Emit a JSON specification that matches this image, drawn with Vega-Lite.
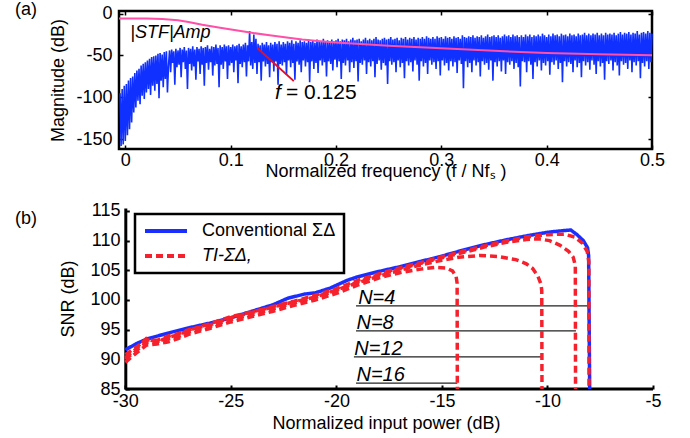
{
"$schema": "https://vega.github.io/schema/vega-lite/v6.json",
"padding": {"left": 13, "top": -1, "right": 5, "bottom": 2},
"background": "white",
"spacing": 19,
"resolve": {"legend": {"color": "independent", "strokeDash": "independent"}},
"config": {
  "font": "Liberation Sans",
  "view": {"stroke": null},
  "axis": {"labelFont": "Liberation Sans", "titleFont": "Liberation Sans", "labelFontSize": 18, "titleFontSize": 18, "titleFontWeight": "normal", "labelColor": "#000", "titleColor": "#000", "tickColor": "#000", "domainColor": "#000", "grid": false, "labelFlush": false, "labelOverlap": false},
  "legend": {"strokeWidth": 2.5, "cornerRadius": 0},
  "title": {"font": "Liberation Sans", "fontSize": 18, "fontWeight": "normal", "color": "#000"}
},
"datasets": {
  "spec": [
{"f":-0.005,"m":-95},{"f":-0.004,"m":-158},{"f":-0.003,"m":-90},{"f":-0.002,"m":-156},{"f":-0.001,"m":-86},{"f":0,"m":-152},{"f":0.001,"m":-84},{"f":0.002,"m":-145},{"f":0.003,"m":-80},{"f":0.004,"m":-138},{"f":0.005,"m":-77},{"f":0.006,"m":-130},{"f":0.007,"m":-75},{"f":0.008,"m":-118},{"f":0.009,"m":-71},{"f":0.01,"m":-112},{"f":0.011,"m":-68},{"f":0.012,"m":-104},{"f":0.013,"m":-66},{"f":0.014,"m":-108},{"f":0.015,"m":-62},{"f":0.016,"m":-98},{"f":0.017,"m":-60},{"f":0.018,"m":-102},{"f":0.019,"m":-58},{"f":0.02,"m":-94},{"f":0.021,"m":-56},{"f":0.022,"m":-90},{"f":0.023,"m":-54},{"f":0.024,"m":-97},{"f":0.025,"m":-52},{"f":0.026,"m":-86},{"f":0.027,"m":-51},{"f":0.028,"m":-92},{"f":0.029,"m":-50},{"f":0.03,"m":-84},{"f":0.031,"m":-48},{"f":0.032,"m":-101},{"f":0.033,"m":-47},{"f":0.034,"m":-80},{"f":0.035,"m":-49},{"f":0.036,"m":-88},{"f":0.037,"m":-46},{"f":0.038,"m":-78},{"f":0.039,"m":-45},{"f":0.04,"m":-94},
{"f":0.041,"m":-62},{"f":0.042,"m":-44},{"f":0.043,"m":-70},{"f":0.044,"m":-43},{"f":0.045,"m":-59},{"f":0.046,"m":-45},{"f":0.047,"m":-85},{"f":0.048,"m":-42},{"f":0.049,"m":-64},{"f":0.05,"m":-44},
{"f":0.051,"m":-61},{"f":0.052,"m":-41},{"f":0.053,"m":-76},{"f":0.054,"m":-43},{"f":0.055,"m":-58},{"f":0.056,"m":-40},{"f":0.057,"m":-66},{"f":0.058,"m":-44},{"f":0.059,"m":-90},{"f":0.06,"m":-41},
{"f":0.061,"m":-60},{"f":0.062,"m":-42},{"f":0.063,"m":-68},{"f":0.064,"m":-39},{"f":0.065,"m":-63},{"f":0.066,"m":-43},{"f":0.067,"m":-79},{"f":0.068,"m":-40},{"f":0.069,"m":-57},{"f":0.07,"m":-42},
{"f":0.071,"m":-72},{"f":0.072,"m":-39},{"f":0.073,"m":-61},{"f":0.074,"m":-41},{"f":0.075,"m":-86},{"f":0.076,"m":-40},{"f":0.077,"m":-59},{"f":0.078,"m":-38},{"f":0.079,"m":-67},{"f":0.08,"m":-42},
{"f":0.081,"m":-58},{"f":0.082,"m":-39},{"f":0.083,"m":-74},{"f":0.084,"m":-40},{"f":0.085,"m":-62},{"f":0.086,"m":-37},{"f":0.087,"m":-60},{"f":0.088,"m":-41},{"f":0.089,"m":-88},{"f":0.09,"m":-38},
{"f":0.091,"m":-61},{"f":0.092,"m":-40},{"f":0.093,"m":-66},{"f":0.094,"m":-37},{"f":0.095,"m":-57},{"f":0.096,"m":-39},{"f":0.097,"m":-78},{"f":0.098,"m":-38},{"f":0.099,"m":-62},{"f":0.1,"m":-40},
{"f":0.101,"m":-59},{"f":0.102,"m":-37},{"f":0.103,"m":-70},{"f":0.104,"m":-39},{"f":0.105,"m":-56},{"f":0.106,"m":-38},{"f":0.107,"m":-83},{"f":0.108,"m":-36},{"f":0.109,"m":-60},{"f":0.11,"m":-39},
{"f":0.111,"m":-64},{"f":0.112,"m":-37},{"f":0.113,"m":-58},{"f":0.114,"m":-35},{"f":0.115,"m":-75},{"f":0.116,"m":-38},{"f":0.117,"m":-57},{"f":0.118,"m":-21},{"f":0.119,"m":-62},{"f":0.12,"m":-34},
{"f":0.121,"m":-66},{"f":0.122,"m":-25},{"f":0.123,"m":-59},{"f":0.124,"m":-30},{"f":0.125,"m":-72},{"f":0.126,"m":-36},{"f":0.127,"m":-58},{"f":0.128,"m":-38},{"f":0.129,"m":-80},{"f":0.13,"m":-35},
{"f":0.131,"m":-57},{"f":0.132,"m":-37},{"f":0.133,"m":-63},{"f":0.134,"m":-34},{"f":0.135,"m":-60},{"f":0.136,"m":-38},{"f":0.137,"m":-76},{"f":0.138,"m":-35},{"f":0.139,"m":-58},{"f":0.14,"m":-37},
{"f":0.141,"m":-69},{"f":0.142,"m":-34},{"f":0.143,"m":-57},{"f":0.144,"m":-36},{"f":0.145,"m":-85},{"f":0.146,"m":-33},{"f":0.147,"m":-60},{"f":0.148,"m":-37},{"f":0.149,"m":-62},{"f":0.15,"m":-34},
{"f":0.151,"m":-58},{"f":0.152,"m":-36},{"f":0.153,"m":-73},{"f":0.154,"m":-33},{"f":0.155,"m":-56},{"f":0.156,"m":-35},{"f":0.157,"m":-64},{"f":0.158,"m":-32},{"f":0.159,"m":-59},{"f":0.16,"m":-36},
{"f":0.161,"m":-79},{"f":0.162,"m":-33},{"f":0.163,"m":-57},{"f":0.164,"m":-35},{"f":0.165,"m":-61},{"f":0.166,"m":-32},{"f":0.167,"m":-70},{"f":0.168,"m":-34},{"f":0.169,"m":-56},{"f":0.17,"m":-33},
{"f":0.171,"m":-63},{"f":0.172,"m":-35},{"f":0.173,"m":-58},{"f":0.174,"m":-31},{"f":0.175,"m":-82},{"f":0.176,"m":-34},{"f":0.177,"m":-57},{"f":0.178,"m":-32},{"f":0.179,"m":-66},{"f":0.18,"m":-35},
{"f":0.181,"m":-59},{"f":0.182,"m":-31},{"f":0.183,"m":-71},{"f":0.184,"m":-33},{"f":0.185,"m":-56},{"f":0.186,"m":-34},{"f":0.187,"m":-62},{"f":0.188,"m":-30},{"f":0.189,"m":-58},{"f":0.19,"m":-33},
{"f":0.191,"m":-75},{"f":0.192,"m":-32},{"f":0.193,"m":-57},{"f":0.194,"m":-34},{"f":0.195,"m":-60},{"f":0.196,"m":-31},{"f":0.197,"m":-68},{"f":0.198,"m":-33},{"f":0.199,"m":-55},{"f":0.2,"m":-32},
{"f":0.201,"m":-64},{"f":0.202,"m":-30},{"f":0.203,"m":-57},{"f":0.204,"m":-33},{"f":0.205,"m":-78},{"f":0.206,"m":-31},{"f":0.207,"m":-59},{"f":0.208,"m":-32},{"f":0.209,"m":-62},{"f":0.21,"m":-30},
{"f":0.211,"m":-56},{"f":0.212,"m":-33},{"f":0.213,"m":-70},{"f":0.214,"m":-31},{"f":0.215,"m":-58},{"f":0.216,"m":-29},{"f":0.217,"m":-65},{"f":0.218,"m":-32},{"f":0.219,"m":-57},{"f":0.22,"m":-31},
{"f":0.221,"m":-81},{"f":0.222,"m":-30},{"f":0.223,"m":-59},{"f":0.224,"m":-33},{"f":0.225,"m":-61},{"f":0.226,"m":-31},{"f":0.227,"m":-56},{"f":0.228,"m":-29},{"f":0.229,"m":-72},{"f":0.23,"m":-32},
{"f":0.231,"m":-58},{"f":0.232,"m":-30},{"f":0.233,"m":-63},{"f":0.234,"m":-32},{"f":0.235,"m":-57},{"f":0.236,"m":-30},{"f":0.237,"m":-76},{"f":0.238,"m":-28},{"f":0.239,"m":-60},{"f":0.24,"m":-31},
{"f":0.241,"m":-56},{"f":0.242,"m":-32},{"f":0.243,"m":-67},{"f":0.244,"m":-30},{"f":0.245,"m":-59},{"f":0.246,"m":-29},{"f":0.247,"m":-62},{"f":0.248,"m":-31},{"f":0.249,"m":-84},{"f":0.25,"m":-30},
{"f":0.251,"m":-57},{"f":0.252,"m":-28},{"f":0.253,"m":-61},{"f":0.254,"m":-31},{"f":0.255,"m":-58},{"f":0.256,"m":-30},{"f":0.257,"m":-70},{"f":0.258,"m":-29},{"f":0.259,"m":-56},{"f":0.26,"m":-32},
{"f":0.261,"m":-64},{"f":0.262,"m":-29},{"f":0.263,"m":-59},{"f":0.264,"m":-30},{"f":0.265,"m":-77},{"f":0.266,"m":-28},{"f":0.267,"m":-57},{"f":0.268,"m":-31},{"f":0.269,"m":-62},{"f":0.27,"m":-29},
{"f":0.271,"m":-58},{"f":0.272,"m":-30},{"f":0.273,"m":-69},{"f":0.274,"m":-28},{"f":0.275,"m":-56},{"f":0.276,"m":-31},{"f":0.277,"m":-61},{"f":0.278,"m":-29},{"f":0.279,"m":-80},{"f":0.28,"m":-30},
{"f":0.281,"m":-57},{"f":0.282,"m":-28},{"f":0.283,"m":-63},{"f":0.284,"m":-30},{"f":0.285,"m":-59},{"f":0.286,"m":-27},{"f":0.287,"m":-72},{"f":0.288,"m":-29},{"f":0.289,"m":-56},{"f":0.29,"m":-30},
{"f":0.291,"m":-61},{"f":0.292,"m":-28},{"f":0.293,"m":-58},{"f":0.294,"m":-30},{"f":0.295,"m":-66},{"f":0.296,"m":-27},{"f":0.297,"m":-57},{"f":0.298,"m":-29},{"f":0.299,"m":-74},{"f":0.3,"m":-28},
{"f":0.301,"m":-56},{"f":0.302,"m":-30},{"f":0.303,"m":-62},{"f":0.304,"m":-27},{"f":0.305,"m":-59},{"f":0.306,"m":-29},{"f":0.307,"m":-68},{"f":0.308,"m":-28},{"f":0.309,"m":-57},{"f":0.31,"m":-30},
{"f":0.311,"m":-63},{"f":0.312,"m":-27},{"f":0.313,"m":-58},{"f":0.314,"m":-29},{"f":0.315,"m":-71},{"f":0.316,"m":-28},{"f":0.317,"m":-56},{"f":0.318,"m":-30},{"f":0.319,"m":-60},{"f":0.32,"m":-26},
{"f":0.321,"m":-89},{"f":0.322,"m":-28},{"f":0.323,"m":-57},{"f":0.324,"m":-29},{"f":0.325,"m":-64},{"f":0.326,"m":-27},{"f":0.327,"m":-59},{"f":0.328,"m":-28},{"f":0.329,"m":-70},{"f":0.33,"m":-26},
{"f":0.331,"m":-56},{"f":0.332,"m":-29},{"f":0.333,"m":-62},{"f":0.334,"m":-27},{"f":0.335,"m":-58},{"f":0.336,"m":-28},{"f":0.337,"m":-75},{"f":0.338,"m":-26},{"f":0.339,"m":-57},{"f":0.34,"m":-29},
{"f":0.341,"m":-61},{"f":0.342,"m":-27},{"f":0.343,"m":-59},{"f":0.344,"m":-25},{"f":0.345,"m":-67},{"f":0.346,"m":-28},{"f":0.347,"m":-56},{"f":0.348,"m":-27},{"f":0.349,"m":-80},{"f":0.35,"m":-26},
{"f":0.351,"m":-58},{"f":0.352,"m":-28},{"f":0.353,"m":-63},{"f":0.354,"m":-26},{"f":0.355,"m":-57},{"f":0.356,"m":-29},{"f":0.357,"m":-69},{"f":0.358,"m":-27},{"f":0.359,"m":-56},{"f":0.36,"m":-25},
{"f":0.361,"m":-72},{"f":0.362,"m":-27},{"f":0.363,"m":-58},{"f":0.364,"m":-26},{"f":0.365,"m":-61},{"f":0.366,"m":-28},{"f":0.367,"m":-57},{"f":0.368,"m":-25},{"f":0.369,"m":-66},{"f":0.37,"m":-27},
{"f":0.371,"m":-59},{"f":0.372,"m":-26},{"f":0.373,"m":-64},{"f":0.374,"m":-28},{"f":0.375,"m":-87},{"f":0.376,"m":-26},{"f":0.377,"m":-57},{"f":0.378,"m":-28},{"f":0.379,"m":-58},{"f":0.38,"m":-25},
{"f":0.381,"m":-70},{"f":0.382,"m":-27},{"f":0.383,"m":-57},{"f":0.384,"m":-25},{"f":0.385,"m":-61},{"f":0.386,"m":-28},{"f":0.387,"m":-78},{"f":0.388,"m":-26},{"f":0.389,"m":-58},{"f":0.39,"m":-27},
{"f":0.391,"m":-63},{"f":0.392,"m":-25},{"f":0.393,"m":-56},{"f":0.394,"m":-27},{"f":0.395,"m":-68},{"f":0.396,"m":-24},{"f":0.397,"m":-59},{"f":0.398,"m":-26},{"f":0.399,"m":-62},{"f":0.4,"m":-28},
{"f":0.401,"m":-57},{"f":0.402,"m":-25},{"f":0.403,"m":-73},{"f":0.404,"m":-27},{"f":0.405,"m":-58},{"f":0.406,"m":-24},{"f":0.407,"m":-61},{"f":0.408,"m":-26},{"f":0.409,"m":-56},{"f":0.41,"m":-25},
{"f":0.411,"m":-66},{"f":0.412,"m":-27},{"f":0.413,"m":-59},{"f":0.414,"m":-24},{"f":0.415,"m":-82},{"f":0.416,"m":-26},{"f":0.417,"m":-57},{"f":0.418,"m":-25},{"f":0.419,"m":-63},{"f":0.42,"m":-27},
{"f":0.421,"m":-58},{"f":0.422,"m":-24},{"f":0.423,"m":-60},{"f":0.424,"m":-26},{"f":0.425,"m":-70},{"f":0.426,"m":-25},{"f":0.427,"m":-56},{"f":0.428,"m":-27},{"f":0.429,"m":-64},{"f":0.43,"m":-24},
{"f":0.431,"m":-59},{"f":0.432,"m":-26},{"f":0.433,"m":-76},{"f":0.434,"m":-25},{"f":0.435,"m":-57},{"f":0.436,"m":-23},{"f":0.437,"m":-62},{"f":0.438,"m":-26},{"f":0.439,"m":-58},{"f":0.44,"m":-24},
{"f":0.441,"m":-67},{"f":0.442,"m":-26},{"f":0.443,"m":-56},{"f":0.444,"m":-24},{"f":0.445,"m":-61},{"f":0.446,"m":-25},{"f":0.447,"m":-72},{"f":0.448,"m":-23},{"f":0.449,"m":-57},{"f":0.45,"m":-26},
{"f":0.451,"m":-63},{"f":0.452,"m":-24},{"f":0.453,"m":-59},{"f":0.454,"m":-26},{"f":0.455,"m":-79},{"f":0.456,"m":-23},{"f":0.457,"m":-57},{"f":0.458,"m":-25},{"f":0.459,"m":-60},{"f":0.46,"m":-24},
{"f":0.461,"m":-56},{"f":0.462,"m":-25},{"f":0.463,"m":-68},{"f":0.464,"m":-23},{"f":0.465,"m":-58},{"f":0.466,"m":-26},{"f":0.467,"m":-62},{"f":0.468,"m":-24},{"f":0.469,"m":-74},{"f":0.47,"m":-22},
{"f":0.471,"m":-57},{"f":0.472,"m":-25},{"f":0.473,"m":-61},{"f":0.474,"m":-23},{"f":0.475,"m":-59},{"f":0.476,"m":-24},{"f":0.477,"m":-66},{"f":0.478,"m":-22},{"f":0.479,"m":-56},{"f":0.48,"m":-25},
{"f":0.481,"m":-70},{"f":0.482,"m":-23},{"f":0.483,"m":-58},{"f":0.484,"m":-24},{"f":0.485,"m":-62},{"f":0.486,"m":-21},{"f":0.487,"m":-57},{"f":0.488,"m":-25},{"f":0.489,"m":-77},{"f":0.49,"m":-23},
{"f":0.491,"m":-59},{"f":0.492,"m":-22},{"f":0.493,"m":-63},{"f":0.494,"m":-24},{"f":0.495,"m":-57},{"f":0.496,"m":-21},{"f":0.497,"m":-66},{"f":0.498,"m":-23},{"f":0.499,"m":-58},{"f":0.5,"m":-24}
  ],
  "stf": [
{"f":-0.006,"m":-6},{"f":0.02,"m":-6},{"f":0.035,"m":-6.5},{"f":0.05,"m":-8},{"f":0.06,"m":-10},{"f":0.073,"m":-13.5},{"f":0.09,"m":-17},{"f":0.105,"m":-20},{"f":0.12,"m":-23},{"f":0.137,"m":-26},{"f":0.155,"m":-29},{"f":0.168,"m":-31},{"f":0.185,"m":-33},{"f":0.2,"m":-34.5},{"f":0.25,"m":-38.5},{"f":0.3,"m":-41.5},{"f":0.35,"m":-44.5},{"f":0.4,"m":-47},{"f":0.45,"m":-48.7},{"f":0.5,"m":-49.7}
  ],
  "snr": [
{"x":-30,"y":91.6,"s":"Conventional ΣΔ","n":"conv"},{"x":-29.5,"y":92.6,"s":"Conventional ΣΔ","n":"conv"},{"x":-29,"y":93.4,"s":"Conventional ΣΔ","n":"conv"},{"x":-28.5,"y":93.9,"s":"Conventional ΣΔ","n":"conv"},{"x":-28,"y":94.4,"s":"Conventional ΣΔ","n":"conv"},{"x":-27,"y":95.3,"s":"Conventional ΣΔ","n":"conv"},{"x":-26,"y":96.1,"s":"Conventional ΣΔ","n":"conv"},{"x":-25,"y":97.0,"s":"Conventional ΣΔ","n":"conv"},{"x":-24,"y":98.1,"s":"Conventional ΣΔ","n":"conv"},{"x":-23,"y":99.2,"s":"Conventional ΣΔ","n":"conv"},{"x":-22.3,"y":100.3,"s":"Conventional ΣΔ","n":"conv"},{"x":-21.5,"y":101.0,"s":"Conventional ΣΔ","n":"conv"},{"x":-21,"y":101.2,"s":"Conventional ΣΔ","n":"conv"},{"x":-20.3,"y":102.0,"s":"Conventional ΣΔ","n":"conv"},{"x":-19.5,"y":103.3,"s":"Conventional ΣΔ","n":"conv"},{"x":-19,"y":103.9,"s":"Conventional ΣΔ","n":"conv"},{"x":-18,"y":104.8,"s":"Conventional ΣΔ","n":"conv"},{"x":-17,"y":105.6,"s":"Conventional ΣΔ","n":"conv"},{"x":-16,"y":106.5,"s":"Conventional ΣΔ","n":"conv"},{"x":-15,"y":107.4,"s":"Conventional ΣΔ","n":"conv"},{"x":-14,"y":108.4,"s":"Conventional ΣΔ","n":"conv"},{"x":-13,"y":109.3,"s":"Conventional ΣΔ","n":"conv"},{"x":-12,"y":110.1,"s":"Conventional ΣΔ","n":"conv"},{"x":-11,"y":110.8,"s":"Conventional ΣΔ","n":"conv"},{"x":-10,"y":111.4,"s":"Conventional ΣΔ","n":"conv"},{"x":-9.5,"y":111.6,"s":"Conventional ΣΔ","n":"conv"},{"x":-8.9,"y":111.8,"s":"Conventional ΣΔ","n":"conv"},{"x":-8.6,"y":111.0,"s":"Conventional ΣΔ","n":"conv"},{"x":-8.3,"y":110.0,"s":"Conventional ΣΔ","n":"conv"},{"x":-8.1,"y":108.8,"s":"Conventional ΣΔ","n":"conv"},{"x":-8.05,"y":107.5,"s":"Conventional ΣΔ","n":"conv"},{"x":-8.0,"y":85,"s":"Conventional ΣΔ","n":"conv"},
{"x":-30,"y":90.8,"s":"TI-ΣΔ,","n":"N=4"},{"x":-29.5,"y":92.0,"s":"TI-ΣΔ,","n":"N=4"},{"x":-29,"y":93.3,"s":"TI-ΣΔ,","n":"N=4"},{"x":-28.5,"y":93.2,"s":"TI-ΣΔ,","n":"N=4"},{"x":-28,"y":93.9,"s":"TI-ΣΔ,","n":"N=4"},{"x":-27.5,"y":94.3,"s":"TI-ΣΔ,","n":"N=4"},{"x":-27,"y":95.0,"s":"TI-ΣΔ,","n":"N=4"},{"x":-26,"y":95.8,"s":"TI-ΣΔ,","n":"N=4"},{"x":-25,"y":97.0,"s":"TI-ΣΔ,","n":"N=4"},{"x":-24,"y":97.9,"s":"TI-ΣΔ,","n":"N=4"},{"x":-23,"y":98.9,"s":"TI-ΣΔ,","n":"N=4"},{"x":-22,"y":99.8,"s":"TI-ΣΔ,","n":"N=4"},{"x":-21,"y":100.8,"s":"TI-ΣΔ,","n":"N=4"},{"x":-20,"y":101.9,"s":"TI-ΣΔ,","n":"N=4"},{"x":-19,"y":103.3,"s":"TI-ΣΔ,","n":"N=4"},{"x":-18,"y":104.4,"s":"TI-ΣΔ,","n":"N=4"},{"x":-17,"y":105.4,"s":"TI-ΣΔ,","n":"N=4"},{"x":-16,"y":106.3,"s":"TI-ΣΔ,","n":"N=4"},{"x":-15,"y":107.3,"s":"TI-ΣΔ,","n":"N=4"},{"x":-14,"y":108.2,"s":"TI-ΣΔ,","n":"N=4"},{"x":-13,"y":109.1,"s":"TI-ΣΔ,","n":"N=4"},{"x":-12,"y":109.9,"s":"TI-ΣΔ,","n":"N=4"},{"x":-11,"y":110.6,"s":"TI-ΣΔ,","n":"N=4"},{"x":-10,"y":111.0,"s":"TI-ΣΔ,","n":"N=4"},{"x":-9.2,"y":111.1,"s":"TI-ΣΔ,","n":"N=4"},{"x":-8.7,"y":110.6,"s":"TI-ΣΔ,","n":"N=4"},{"x":-8.35,"y":109.6,"s":"TI-ΣΔ,","n":"N=4"},{"x":-8.12,"y":108.2,"s":"TI-ΣΔ,","n":"N=4"},{"x":-8.04,"y":106.5,"s":"TI-ΣΔ,","n":"N=4"},{"x":-8.03,"y":85,"s":"TI-ΣΔ,","n":"N=4"},
{"x":-30,"y":90.0,"s":"TI-ΣΔ,","n":"N=8"},{"x":-29.5,"y":91.4,"s":"TI-ΣΔ,","n":"N=8"},{"x":-29,"y":92.8,"s":"TI-ΣΔ,","n":"N=8"},{"x":-28.5,"y":93.0,"s":"TI-ΣΔ,","n":"N=8"},{"x":-28,"y":93.4,"s":"TI-ΣΔ,","n":"N=8"},{"x":-27.5,"y":93.8,"s":"TI-ΣΔ,","n":"N=8"},{"x":-27,"y":94.6,"s":"TI-ΣΔ,","n":"N=8"},{"x":-26,"y":95.5,"s":"TI-ΣΔ,","n":"N=8"},{"x":-25,"y":96.7,"s":"TI-ΣΔ,","n":"N=8"},{"x":-24,"y":97.5,"s":"TI-ΣΔ,","n":"N=8"},{"x":-23,"y":98.5,"s":"TI-ΣΔ,","n":"N=8"},{"x":-22,"y":99.5,"s":"TI-ΣΔ,","n":"N=8"},{"x":-21,"y":100.4,"s":"TI-ΣΔ,","n":"N=8"},{"x":-20,"y":101.6,"s":"TI-ΣΔ,","n":"N=8"},{"x":-19,"y":103.0,"s":"TI-ΣΔ,","n":"N=8"},{"x":-18,"y":104.2,"s":"TI-ΣΔ,","n":"N=8"},{"x":-17,"y":105.2,"s":"TI-ΣΔ,","n":"N=8"},{"x":-16,"y":106.2,"s":"TI-ΣΔ,","n":"N=8"},{"x":-15,"y":107.1,"s":"TI-ΣΔ,","n":"N=8"},{"x":-14,"y":108.0,"s":"TI-ΣΔ,","n":"N=8"},{"x":-13,"y":108.9,"s":"TI-ΣΔ,","n":"N=8"},{"x":-12,"y":109.7,"s":"TI-ΣΔ,","n":"N=8"},{"x":-11,"y":110.2,"s":"TI-ΣΔ,","n":"N=8"},{"x":-10.4,"y":110.3,"s":"TI-ΣΔ,","n":"N=8"},{"x":-9.9,"y":110.0,"s":"TI-ΣΔ,","n":"N=8"},{"x":-9.4,"y":109.2,"s":"TI-ΣΔ,","n":"N=8"},{"x":-9.0,"y":108.2,"s":"TI-ΣΔ,","n":"N=8"},{"x":-8.78,"y":107.2,"s":"TI-ΣΔ,","n":"N=8"},{"x":-8.68,"y":105.8,"s":"TI-ΣΔ,","n":"N=8"},{"x":-8.67,"y":85,"s":"TI-ΣΔ,","n":"N=8"},
{"x":-30,"y":90.3,"s":"TI-ΣΔ,","n":"N=12"},{"x":-29.5,"y":91.7,"s":"TI-ΣΔ,","n":"N=12"},{"x":-29,"y":93.5,"s":"TI-ΣΔ,","n":"N=12"},{"x":-28.5,"y":92.9,"s":"TI-ΣΔ,","n":"N=12"},{"x":-28,"y":93.7,"s":"TI-ΣΔ,","n":"N=12"},{"x":-27.5,"y":94.1,"s":"TI-ΣΔ,","n":"N=12"},{"x":-27,"y":94.9,"s":"TI-ΣΔ,","n":"N=12"},{"x":-26,"y":96.0,"s":"TI-ΣΔ,","n":"N=12"},{"x":-25,"y":97.2,"s":"TI-ΣΔ,","n":"N=12"},{"x":-24,"y":98.0,"s":"TI-ΣΔ,","n":"N=12"},{"x":-23,"y":98.8,"s":"TI-ΣΔ,","n":"N=12"},{"x":-22,"y":99.7,"s":"TI-ΣΔ,","n":"N=12"},{"x":-21,"y":100.5,"s":"TI-ΣΔ,","n":"N=12"},{"x":-20,"y":101.7,"s":"TI-ΣΔ,","n":"N=12"},{"x":-19,"y":102.9,"s":"TI-ΣΔ,","n":"N=12"},{"x":-18,"y":104.0,"s":"TI-ΣΔ,","n":"N=12"},{"x":-17,"y":105.0,"s":"TI-ΣΔ,","n":"N=12"},{"x":-16,"y":105.9,"s":"TI-ΣΔ,","n":"N=12"},{"x":-15,"y":106.7,"s":"TI-ΣΔ,","n":"N=12"},{"x":-14.2,"y":107.2,"s":"TI-ΣΔ,","n":"N=12"},{"x":-13.2,"y":107.5,"s":"TI-ΣΔ,","n":"N=12"},{"x":-12.3,"y":107.3,"s":"TI-ΣΔ,","n":"N=12"},{"x":-11.5,"y":106.8,"s":"TI-ΣΔ,","n":"N=12"},{"x":-11,"y":106.1,"s":"TI-ΣΔ,","n":"N=12"},{"x":-10.7,"y":105.3,"s":"TI-ΣΔ,","n":"N=12"},{"x":-10.45,"y":104.0,"s":"TI-ΣΔ,","n":"N=12"},{"x":-10.3,"y":102.6,"s":"TI-ΣΔ,","n":"N=12"},{"x":-10.27,"y":101.5,"s":"TI-ΣΔ,","n":"N=12"},{"x":-10.26,"y":85,"s":"TI-ΣΔ,","n":"N=12"},
{"x":-30,"y":89.5,"s":"TI-ΣΔ,","n":"N=16"},{"x":-29.5,"y":91.0,"s":"TI-ΣΔ,","n":"N=16"},{"x":-29,"y":92.4,"s":"TI-ΣΔ,","n":"N=16"},{"x":-28.5,"y":92.6,"s":"TI-ΣΔ,","n":"N=16"},{"x":-28,"y":92.9,"s":"TI-ΣΔ,","n":"N=16"},{"x":-27.5,"y":93.5,"s":"TI-ΣΔ,","n":"N=16"},{"x":-27,"y":94.2,"s":"TI-ΣΔ,","n":"N=16"},{"x":-26,"y":95.2,"s":"TI-ΣΔ,","n":"N=16"},{"x":-25,"y":96.3,"s":"TI-ΣΔ,","n":"N=16"},{"x":-24,"y":97.2,"s":"TI-ΣΔ,","n":"N=16"},{"x":-23,"y":98.1,"s":"TI-ΣΔ,","n":"N=16"},{"x":-22,"y":99.1,"s":"TI-ΣΔ,","n":"N=16"},{"x":-21,"y":100.0,"s":"TI-ΣΔ,","n":"N=16"},{"x":-20,"y":101.1,"s":"TI-ΣΔ,","n":"N=16"},{"x":-19,"y":102.5,"s":"TI-ΣΔ,","n":"N=16"},{"x":-18,"y":103.7,"s":"TI-ΣΔ,","n":"N=16"},{"x":-17,"y":104.6,"s":"TI-ΣΔ,","n":"N=16"},{"x":-16,"y":105.2,"s":"TI-ΣΔ,","n":"N=16"},{"x":-15.3,"y":105.5,"s":"TI-ΣΔ,","n":"N=16"},{"x":-14.8,"y":105.4,"s":"TI-ΣΔ,","n":"N=16"},{"x":-14.5,"y":104.9,"s":"TI-ΣΔ,","n":"N=16"},{"x":-14.33,"y":104.0,"s":"TI-ΣΔ,","n":"N=16"},{"x":-14.28,"y":102.8,"s":"TI-ΣΔ,","n":"N=16"},{"x":-14.27,"y":85,"s":"TI-ΣΔ,","n":"N=16"}
  ]
},
"vconcat": [
 {
  "width": 533,
  "height": 138,
  "title": {"text": "(a)", "anchor": "start", "frame": "group", "orient": "top", "offset": 1, "dx": -104, "dy": 15, "baseline": "top"},
  "view": {"stroke": "#000", "strokeWidth": 2.5},
  "resolve": {"axis": {"x": "independent", "y": "independent"}},
  "layer": [
   {
    "data": {"name": "spec"},
    "mark": {"type": "line", "color": "#1030ff", "strokeWidth": 1.6},
    "encoding": {
     "x": {"field": "f", "type": "quantitative", "scale": {"domain": [-0.006, 0.5], "nice": false, "zero": false},
           "axis": {"title": "Normalized frequency (f / Nfₛ )", "values": [0, 0.1, 0.2, 0.3, 0.4, 0.5], "labelExpr": "'' + datum.value", "domain": false, "tickSize": -4, "tickWidth": 1.5, "labelPadding": 6, "titlePadding": -7}},
     "y": {"field": "m", "type": "quantitative", "scale": {"domain": [-161.5, 3], "nice": false, "zero": false},
           "axis": {"title": "Magnitude (dB)", "values": [-150, -100, -50, 0], "labelExpr": "'' + datum.value", "domain": false, "tickSize": -4, "tickWidth": 1.5, "labelPadding": 11, "titlePadding": 8}}
    }
   },
   {
    "data": {"name": "stf"},
    "mark": {"type": "line", "color": "#ff4fa8", "strokeWidth": 2},
    "encoding": {
     "x": {"field": "f", "type": "quantitative", "axis": {"orient": "top", "labels": false, "title": null, "values": [0, 0.1, 0.2, 0.3, 0.4, 0.5], "domain": false, "tickSize": -4, "tickWidth": 1.5}},
     "y": {"field": "m", "type": "quantitative", "axis": {"orient": "right", "labels": false, "title": null, "values": [-150, -100, -50, 0], "domain": false, "tickSize": -4, "tickWidth": 1.5}}
    }
   },
   {
    "data": {"values": [{"f": 0.1255, "m": -41.4, "f2": 0.16, "m2": -80.6}]},
    "mark": {"type": "rule", "color": "#e0102a", "strokeWidth": 2},
    "encoding": {
     "x": {"field": "f", "type": "quantitative", "axis": null},
     "y": {"field": "m", "type": "quantitative", "axis": null},
     "x2": {"field": "f2"},
     "y2": {"field": "m2"}
    }
   },
   {
    "data": {"values": [{"f": 0.0047, "m": -29.5, "t": "|STF|Amp"}, {"f": 0.1421, "m": -102, "t": "f"}]},
    "mark": {"type": "text", "font": "Liberation Sans", "fontStyle": "italic", "fontSize": 18, "align": "left", "baseline": "alphabetic", "color": "#000"},
    "encoding": {
     "x": {"field": "f", "type": "quantitative", "axis": null},
     "y": {"field": "m", "type": "quantitative", "axis": null},
     "text": {"field": "t"},
     "size": {"condition": {"test": "datum.t == 'f'", "value": 21}, "value": 18}
    }
   },
   {
    "data": {"values": [{"f": 0.1525, "m": -102, "t": "= 0.125"}]},
    "mark": {"type": "text", "font": "Liberation Sans", "fontSize": 21, "align": "left", "baseline": "alphabetic", "color": "#000"},
    "encoding": {
     "x": {"field": "f", "type": "quantitative", "axis": null},
     "y": {"field": "m", "type": "quantitative", "axis": null},
     "text": {"field": "t"}
    }
   }
  ]
 },
 {
  "width": 534,
  "height": 181,
  "title": {"text": "(b)", "anchor": "start", "frame": "group", "orient": "top", "offset": -3, "dx": -104, "dy": 23, "baseline": "top"},
  "encoding": {
   "x": {"field": "x", "type": "quantitative", "scale": {"domain": [-30.3, -5], "nice": false, "zero": false},
         "axis": {"title": "Normalized input power (dB)", "values": [-30, -25, -20, -15, -10, -5], "labelExpr": "'' + datum.value", "domain": false, "tickSize": -4, "tickWidth": 2, "labelPadding": 7, "titlePadding": 4}},
   "y": {"field": "y", "type": "quantitative", "scale": {"domain": [85, 115.5], "nice": false, "zero": false},
         "axis": {"title": "SNR (dB)", "values": [85, 90, 95, 100, 105, 110, 115], "labelExpr": "'' + datum.value", "offset": -6.3, "domainWidth": 3, "tickSize": -4, "tickWidth": 2, "labelPadding": 9.3, "titlePadding": 12}}
  },
  "layer": [
   {
    "data": {"values": [{"x": -30, "x2": -5, "y": 85}]},
    "mark": {"type": "rule", "color": "#000", "strokeWidth": 3},
    "encoding": {"x2": {"field": "x2"}}
   },
   {
    "data": {"values": [{"x": -19.07, "x2": -8.04, "y": 99.0}, {"x": -19.07, "x2": -8.65, "y": 94.8}, {"x": -19.17, "x2": -10.23, "y": 90.4}, {"x": -19.07, "x2": -14.27, "y": 86.0}]},
    "mark": {"type": "rule", "color": "#222", "strokeWidth": 1.3},
    "encoding": {"x2": {"field": "x2"}}
   },
   {
    "data": {"values": [{"x": -18.97, "y": 99.35, "label": "N=4"}, {"x": -19.05, "y": 95.15, "label": "N=8"}, {"x": -19.15, "y": 90.75, "label": "N=12"}, {"x": -19.05, "y": 86.35, "label": "N=16"}]},
    "mark": {"type": "text", "font": "Liberation Sans", "fontSize": 20, "fontStyle": "italic", "align": "left", "baseline": "alphabetic", "color": "#000"},
    "encoding": {"text": {"field": "label"}}
   },
   {
    "data": {"name": "snr"},
    "mark": {"type": "line", "strokeWidth": 3.5},
    "encoding": {
     "color": {"field": "s", "type": "nominal", "scale": {"domain": ["Conventional ΣΔ", "TI-ΣΔ,"], "range": ["#1a2eff", "#f5222d"]},
               "legend": {"orient": "none", "legendX": 16, "legendY": 6, "title": null, "symbolType": "M-1,0H5", "symbolSize": 196, "symbolStrokeWidth": 4, "labelFont": "Liberation Sans", "labelFontSize": 18, "labelColor": "#000", "labelOffset": 41, "rowPadding": 7, "padding": 8, "strokeColor": "#000", "fillColor": "#fff",
                          "encode": {"labels": {"update": {"fontStyle": {"signal": "datum.value === 'TI-ΣΔ,' ? 'italic' : 'normal'"}}}}}},
     "strokeDash": {"field": "s", "type": "nominal", "scale": {"domain": ["Conventional ΣΔ", "TI-ΣΔ,"], "range": [[1, 0], [7, 4]]},
               "legend": {"orient": "none", "legendX": 16, "legendY": 6, "title": null, "symbolType": "M-1,0H5", "symbolSize": 196, "symbolStrokeWidth": 4, "labelFont": "Liberation Sans", "labelFontSize": 18, "labelColor": "#000", "labelOffset": 41, "rowPadding": 7, "padding": 8, "strokeColor": "#000", "fillColor": "#fff",
                          "encode": {"labels": {"update": {"fontStyle": {"signal": "datum.value === 'TI-ΣΔ,' ? 'italic' : 'normal'"}}}}}},
     "detail": {"field": "n", "type": "nominal"}
    }
   }
  ]
 }
]
}
